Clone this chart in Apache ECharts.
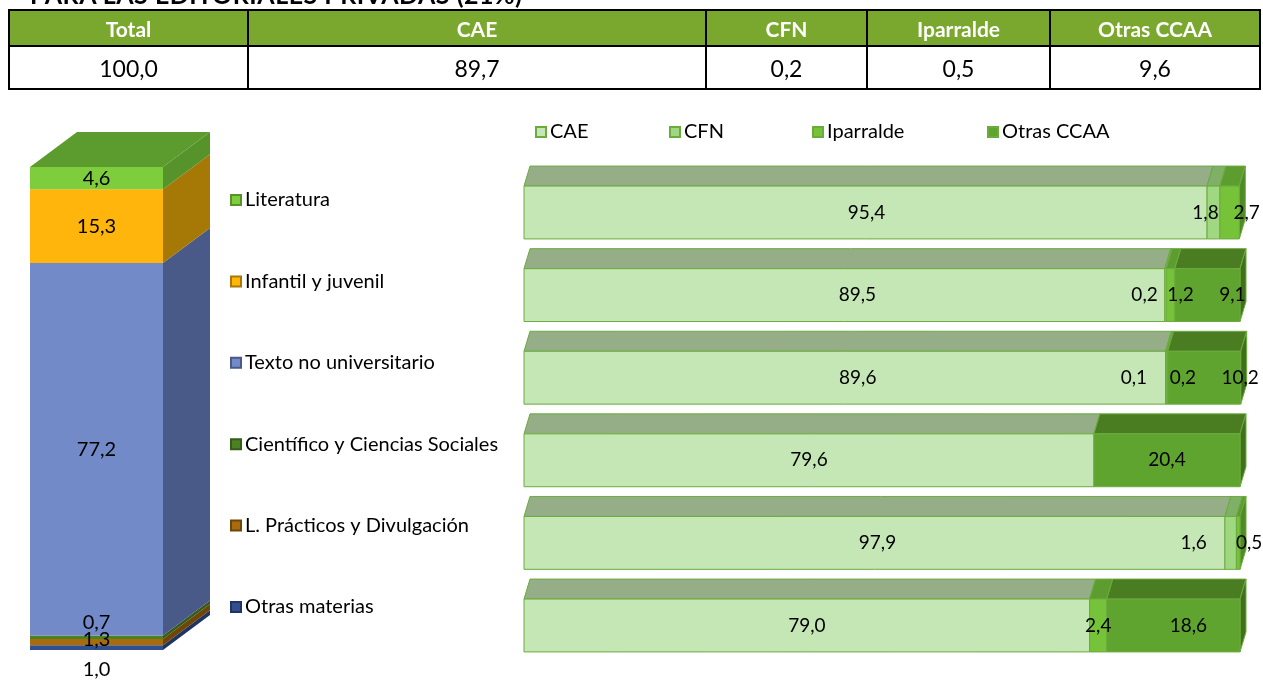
<!DOCTYPE html>
<html>
<head>
<meta charset="utf-8">
<script src="https://cdn.jsdelivr.net/npm/echarts@6/dist/echarts.min.js"></script>
<style>
html, body { margin: 0; padding: 0; background: #fff; font-family: Lato, "Open Sans", sans-serif; }
#chart { position: absolute; left: 0; top: 0; width: 1263px; height: 680px; }
#title { position: absolute; left: 30px; top: -21px; font-size: 25px; font-weight: bold; white-space: nowrap; color: #000; letter-spacing: 0.5px; }
#tbl { position: absolute; left: 8px; top: 9px; width: 1251px; border-collapse: collapse; table-layout: fixed; }
#tbl td { border: 2px solid #000; text-align: center; padding: 0; }
#tbl tr.h td { background: #7aa82f; color: #fff; font-weight: bold; font-size: 21px; height: 34px; }
#tbl tr.v td { font-size: 23px; height: 41px; color: #000; }
</style>
</head>
<body>
<div id="chart"></div>
<div id="title">PARA LAS EDITORIALES PRIVADAS (21%)</div>
<table id="tbl"><colgroup id="cols"></colgroup><tr class="h" id="thead"></tr><tr class="v" id="tvals"></tr></table>
<script>
// tabla superior
var tableHeads = ['Total', 'CAE', 'CFN', 'Iparralde', 'Otras CCAA'];
var tableVals = [100.0, 89.7, 0.2, 0.5, 9.6];

// columna apilada (de arriba a abajo)
var themes = ['Literatura', 'Infantil y juvenil', 'Texto no universitario', 'Científico y Ciencias Sociales', 'L. Prácticos y Divulgación', 'Otras materias'];
var themeShare = [4.6, 15.3, 77.2, 0.7, 1.3, 1.0];

// barras por materia (mismo orden que themes)
var regions = ['CAE', 'CFN', 'Iparralde', 'Otras CCAA'];
var cae = [95.4, 89.5, 89.6, 79.6, 97.9, 79.0];
var cfn = [1.8, 0.2, 0.1, 0, 1.6, 0];
var ipar = [2.7, 1.2, 0.2, 0, 0.5, 2.4];
var otras = [0, 9.1, 10.2, 20.4, 0, 18.6];

// desplazamiento horizontal de etiquetas (px), como en el original
var caeLabelDx = [1, 13, 13, 0, 3, 0];
var cfnLabelDx = [-8, -21, -32, 0, -37, 0];
var iparLabelDx = [17, 10, 16, 0, 11, 0];
var otrasLabelDx = [0, 25, 36, 0, 0, 15];

function fmt(v) { return v.toFixed(1).replace('.', ','); }

var colWidths = [239, 458, 161, 183, 210];
var cg = document.getElementById('cols');
var th = document.getElementById('thead');
var tv = document.getElementById('tvals');
for (var i = 0; i < tableHeads.length; i++) {
    var c = document.createElement('col'); c.style.width = colWidths[i] + 'px'; cg.appendChild(c);
    var a = document.createElement('td'); a.textContent = tableHeads[i]; th.appendChild(a);
    var b = document.createElement('td'); b.textContent = fmt(tableVals[i]); tv.appendChild(b);
}

var FONT = 'Lato, "Open Sans", sans-serif';

// estilos columna izquierda
var colStyles = {
    'Literatura': { front: '#7dcd3d', side: '#56932b', top: '#5c9b2d', labelDy: 0 },
    'Infantil y juvenil': { front: '#ffb50c', side: '#a67805', top: '#c08a06', labelDy: 0 },
    'Texto no universitario': { front: '#738ac8', side: '#4a5a88', top: '#5a6ea6', labelDy: 0 },
    'Científico y Ciencias Sociales': { front: '#4c8024', side: '#365c19', top: '#3d6a1e', labelDy: -15 },
    'L. Prácticos y Divulgación': { front: '#a86c0e', side: '#6e4708', top: '#8a580b', labelDy: -2 },
    'Otras materias': { front: '#2f4f8f', side: '#1f3463', top: '#284478', labelDy: 22 }
};

function makeColRender(st, isTop) {
    return function (params, api) {
        var lo = api.coord([0, api.value(1)]);
        var hi = api.coord([0, api.value(2)]);
        var w = api.size([1, 0])[0];
        var x0 = lo[0] - w / 2, x1 = lo[0] + w / 2;
        var dx = 47, dy = -35;
        var kids = [
            { type: 'polygon', shape: { points: [[x1, hi[1]], [x1 + dx, hi[1] + dy], [x1 + dx, lo[1] + dy], [x1, lo[1]]] }, style: { fill: st.side } },
            { type: 'rect', shape: { x: x0, y: hi[1], width: w, height: lo[1] - hi[1] }, style: { fill: st.front } }
        ];
        if (isTop) {
            kids.push({ type: 'polygon', shape: { points: [[x0, hi[1]], [x1, hi[1]], [x1 + dx, hi[1] + dy], [x0 + dx, hi[1] + dy]] }, style: { fill: st.top } });
        }
        kids.push({ type: 'text', z2: 100, x: lo[0], y: (lo[1] + hi[1]) / 2 + st.labelDy,
            style: { text: fmt(api.value(3)), font: '20px ' + FONT, fill: '#000', align: 'center', verticalAlign: 'middle' } });
        return { type: 'group', children: kids };
    };
}

// estilos barras derecha
var regStyles = {
    'CAE': { front: '#c5e6b5', top: '#95ae88', side: '#7f9a72' },
    'CFN': { front: '#a0d882', top: '#80b068', side: '#6a9a55' },
    'Iparralde': { front: '#76c33a', top: '#5d9c2e', side: '#4f8a26' },
    'Otras CCAA': { front: '#5ea42e', top: '#4a7c22', side: '#41701d' }
};
var EDGE = '#6cab3e';

function makeBarRender(st, dxs) {
    return function (params, api) {
        var row = api.value(1);
        var a = api.coord([api.value(0), row]);
        var b = api.coord([api.value(2), row]);
        var band = api.size([0, 1])[1];
        var h = band * 0.64;
        var y0 = a[1] - h / 2, y1 = a[1] + h / 2;
        var x0 = a[0], x1 = b[0];
        var dx = 6, dy = -20;
        var line = { stroke: EDGE, lineWidth: 1 };
        var kids = [
            { type: 'polygon', shape: { points: [[x0, y0], [x1, y0], [x1 + dx, y0 + dy], [x0 + dx, y0 + dy]] }, style: Object.assign({ fill: st.top }, line) },
            { type: 'polygon', shape: { points: [[x1, y0], [x1 + dx, y0 + dy], [x1 + dx, y1 + dy], [x1, y1]] }, style: Object.assign({ fill: st.side }, line) },
            { type: 'rect', shape: { x: x0, y: y0, width: x1 - x0, height: h }, style: Object.assign({ fill: st.front }, line) },
            { type: 'text', z2: 100, x: (x0 + x1) / 2 + dxs[row], y: a[1],
                style: { text: fmt(api.value(3)), font: '19px ' + FONT, fill: '#000', align: 'center', verticalAlign: 'middle' } }
        ];
        return { type: 'group', children: kids };
    };
}

var series = [];
// columna: de abajo hacia arriba
var base = 0;
for (var k = themes.length - 1; k >= 0; k--) {
    var nm = themes[k];
    var st = colStyles[nm];
    series.push({
        name: nm, type: 'custom', xAxisIndex: 0, yAxisIndex: 0,
        itemStyle: { color: st.front, borderColor: st.side, borderWidth: 1 },
        renderItem: makeColRender(st, k === 0),
        encode: { x: 0, y: [1, 2] },
        data: [[0, base, base + themeShare[k], themeShare[k]]]
    });
    base += themeShare[k];
}

var regData = [cae, cfn, ipar, otras];
var regDx = [caeLabelDx, cfnLabelDx, iparLabelDx, otrasLabelDx];
var starts = themes.map(function () { return 0; });
for (var r = 0; r < regions.length; r++) {
    var d = [];
    for (var j = 0; j < themes.length; j++) {
        var v = regData[r][j];
        if (v > 0) d.push([starts[j], j, starts[j] + v, v]);
        starts[j] += v;
    }
    var rs = regStyles[regions[r]];
    series.push({
        name: regions[r], type: 'custom', xAxisIndex: 1, yAxisIndex: 1,
        itemStyle: { color: rs.front, borderColor: EDGE, borderWidth: 1 },
        renderItem: makeBarRender(rs, regDx[r]),
        encode: { x: [0, 2], y: 1 },
        data: d
    });
}

var legendLefts = [530, 664, 807, 982];
var legends = [{
    orient: 'vertical', left: 225, top: 185, itemWidth: 10, itemHeight: 10, itemGap: 61.4, itemGap2: 0,
    icon: 'rect', data: themes, selectedMode: false,
    textStyle: { fontFamily: FONT, fontSize: 20, color: '#000', lineHeight: 20, padding: [0, 0, 0, -1] }
}];
for (var q = 0; q < regions.length; q++) {
    legends.push({
        orient: 'horizontal', left: legendLefts[q], top: 117, itemWidth: 10, itemHeight: 10,
        icon: 'rect', data: [regions[q]], selectedMode: false,
        textStyle: { fontFamily: FONT, fontSize: 20, color: '#000', padding: [0, 0, 0, -1] }
    });
}

var myChart = echarts.init(document.getElementById('chart'));
var option = {
    animation: false,
    legend: legends,
    grid: [
        { left: 30, top: 167, width: 133, height: 483 },
        { left: 524, top: 171.2, width: 716, height: 495.6 }
    ],
    xAxis: [
        { type: 'category', gridIndex: 0, data: ['Total'], show: false },
        { type: 'value', gridIndex: 1, min: 0, max: 100, show: false }
    ],
    yAxis: [
        { type: 'value', gridIndex: 0, min: 0, max: 100.1, show: false },
        { type: 'category', gridIndex: 1, data: themes, inverse: true, show: false }
    ],
    series: series
};
myChart.setOption(option);
</script>
</body>
</html>
